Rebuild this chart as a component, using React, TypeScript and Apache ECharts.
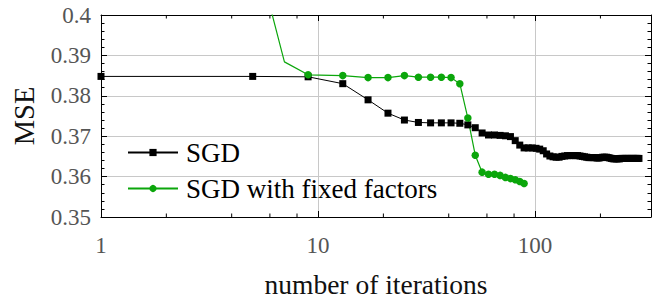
import React, { useEffect, useRef } from "react";
import * as echarts from "echarts";

// SGD (black squares)
const sgdIter = [
  1, 5, 9, 13, 17, 21, 25, 29, 33, 37, 41, 45, 49, 53, 57, 61, 65, 69, 73, 77,
  81, 85, 89, 93, 97, 101, 105, 109, 113, 117, 121, 125, 129, 133, 137, 141, 145, 149, 153, 157,
  161, 165, 169, 173, 177, 181, 185, 189, 193, 197, 201, 205, 209, 213, 217, 221, 225, 229, 233, 237,
  241, 245, 249, 253, 257, 261, 265, 269, 273, 277, 281, 285, 289, 293, 297, 301,
];
const sgdMse = [
  0.3848, 0.3848, 0.3847, 0.383, 0.379, 0.3757, 0.374, 0.3734, 0.3733, 0.3733, 0.3733, 0.3732, 0.3728, 0.3721, 0.3708, 0.3703, 0.3703, 0.3702, 0.3701, 0.3699,
  0.3689, 0.3678, 0.3671, 0.3671, 0.3671, 0.367, 0.3668, 0.3664, 0.3656, 0.3651, 0.3649, 0.3648, 0.3648, 0.365, 0.3651, 0.3652, 0.3652, 0.3652, 0.3652, 0.3652,
  0.3651, 0.365, 0.3649, 0.3648, 0.3647, 0.3647, 0.3647, 0.3647, 0.3646, 0.3646, 0.3647, 0.3648, 0.3648, 0.3648, 0.3647, 0.3646, 0.3645, 0.3644, 0.3644, 0.3644,
  0.3644, 0.3644, 0.3645, 0.3645, 0.3645, 0.3645, 0.3645, 0.3645, 0.3645, 0.3645, 0.3645, 0.3645, 0.3645, 0.3645, 0.3645, 0.3645,
];

// SGD with fixed factors (green circles)
const fixedIter = [1, 5, 7, 9, 13, 17, 21, 25, 29, 33, 37, 41, 45, 49, 53, 57, 61, 65, 69, 73, 77, 81, 85, 89];
const fixedMse = [
  0.445, 0.4187, 0.3884, 0.3852, 0.385, 0.3845, 0.3845, 0.385, 0.3846, 0.3846, 0.3846, 0.3845, 0.383, 0.3745, 0.3653,
  0.3611, 0.3606, 0.3606, 0.3603, 0.3598, 0.3595, 0.3592, 0.3588, 0.3583,
];
const fixedUnmarkedIter = [7];

const seriesNames = ["SGD", "SGD with fixed factors"];
const xMajorLabels = [1, 10, 100];
const xMinorTicks = [2, 4, 6, 8, 20, 40, 60, 80, 200];

export default function App() {
  const ref = useRef<HTMLDivElement>(null);
  useEffect(() => {
    document.body.style.margin = "0";
    const chart = echarts.init(ref.current!, null, { renderer: "svg" });
    const font = "Liberation Serif";
    const green = "#0ba60b";
    const xBase: any = { type: "log", logBase: 10, min: 1, max: 342 };
    const yBase: any = { type: "value", min: 0.35, max: 0.4, interval: 0.01 };
    chart.setOption({
      animation: false,
      textStyle: { fontFamily: font },
      grid: { left: 101, top: 15, width: 550, height: 202, show: false },
      legend: {
        data: seriesNames,
        orient: "vertical",
        left: 122,
        top: 134,
        itemWidth: 50,
        itemHeight: 9,
        itemGap: 9,
        textStyle: { fontFamily: font, fontSize: 27, color: "#000", lineHeight: 26, padding: [0, 0, 0, 3] },
      },
      xAxis: [
        {
          ...xBase,
          position: "bottom",
          name: "number of iterations",
          nameLocation: "middle",
          nameGap: 53,
          nameTextStyle: { fontFamily: font, fontSize: 27.5, color: "#111" },
          axisLine: { show: true, lineStyle: { color: "#000", width: 1 } },
          axisTick: { show: true, inside: true, length: 6, lineStyle: { color: "#000", width: 1 } },
          axisLabel: {
            fontFamily: font,
            fontSize: 23,
            color: "#555",
            margin: 17,
            formatter: (v: number) => {
              const r = Math.round(v);
              return xMajorLabels.includes(r) ? String(r) : "";
            },
          },
          splitLine: { show: true, showMinLine: false, showMaxLine: false, lineStyle: { color: "#c8c8c8", width: 1 } },
        },
        {
          ...xBase,
          position: "top",
          axisLine: { show: true, lineStyle: { color: "#000", width: 1 } },
          axisTick: { show: true, inside: true, length: 6, lineStyle: { color: "#000", width: 1 } },
          axisLabel: { show: false },
          splitLine: { show: false },
        },
      ],
      yAxis: [
        {
          ...yBase,
          position: "left",
          name: "MSE",
          nameLocation: "middle",
          nameGap: 62,
          nameRotate: 90,
          nameTextStyle: { fontFamily: font, fontSize: 28.5, color: "#111" },
          axisLine: { show: true, lineStyle: { color: "#000", width: 1 } },
          axisTick: { show: true, inside: true, length: 6, lineStyle: { color: "#000", width: 1 } },
          minorTick: { show: true, splitNumber: 5, length: 3.5, lineStyle: { color: "#000", width: 1 } },
          axisLabel: {
            fontFamily: font,
            fontSize: 23,
            color: "#555",
            margin: 10,
            formatter: (v: number) => String(+v.toFixed(2)),
          },
          splitLine: { show: true, showMinLine: false, showMaxLine: false, lineStyle: { color: "#c8c8c8", width: 1 } },
        },
        {
          ...yBase,
          position: "right",
          axisLine: { show: true, lineStyle: { color: "#000", width: 1 } },
          axisTick: { show: true, inside: true, length: 6, lineStyle: { color: "#000", width: 1 } },
          minorTick: { show: true, splitNumber: 5, length: 3.5, lineStyle: { color: "#000", width: 1 } },
          axisLabel: { show: false },
          splitLine: { show: false },
        },
      ],
      series: [
        {
          type: "custom",
          name: "minorTicks",
          xAxisIndex: 0,
          yAxisIndex: 0,
          silent: true,
          clip: false,
          data: xMinorTicks.map((v) => [v, 0.35]),
          encode: { x: 0, y: 1 },
          renderItem: (params: any, api: any) => {
            const px = api.coord([api.value(0), api.value(1)])[0];
            const cs = params.coordSys;
            const bottom = cs.y + cs.height;
            return {
              type: "group",
              children: [
                { type: "line", shape: { x1: px, y1: bottom, x2: px, y2: bottom - 3.5 }, style: { stroke: "#000", lineWidth: 1 } },
                { type: "line", shape: { x1: px, y1: cs.y, x2: px, y2: cs.y + 3.5 }, style: { stroke: "#000", lineWidth: 1 } },
              ],
            };
          },
        },
        {
          type: "line",
          name: seriesNames[0],
          xAxisIndex: 0,
          yAxisIndex: 0,
          data: sgdIter.map((x, i) => [x, sgdMse[i]]),
          symbol: "rect",
          symbolSize: 7,
          showAllSymbol: true,
          clip: true,
          lineStyle: { color: "#000", width: 1 },
          itemStyle: { color: "#000" },
        },
        {
          type: "line",
          name: seriesNames[1],
          xAxisIndex: 0,
          yAxisIndex: 0,
          data: fixedIter.map((x, i) =>
            fixedUnmarkedIter.includes(x) ? { value: [x, fixedMse[i]], symbol: "none" } : [x, fixedMse[i]]
          ),
          symbol: "circle",
          symbolSize: 7.5,
          showAllSymbol: true,
          clip: true,
          lineStyle: { color: green, width: 1.2 },
          itemStyle: { color: green },
        },
      ],
    });
    return () => chart.dispose();
  }, []);
  return <div ref={ref} style={{ width: 664, height: 303 }} />;
}
